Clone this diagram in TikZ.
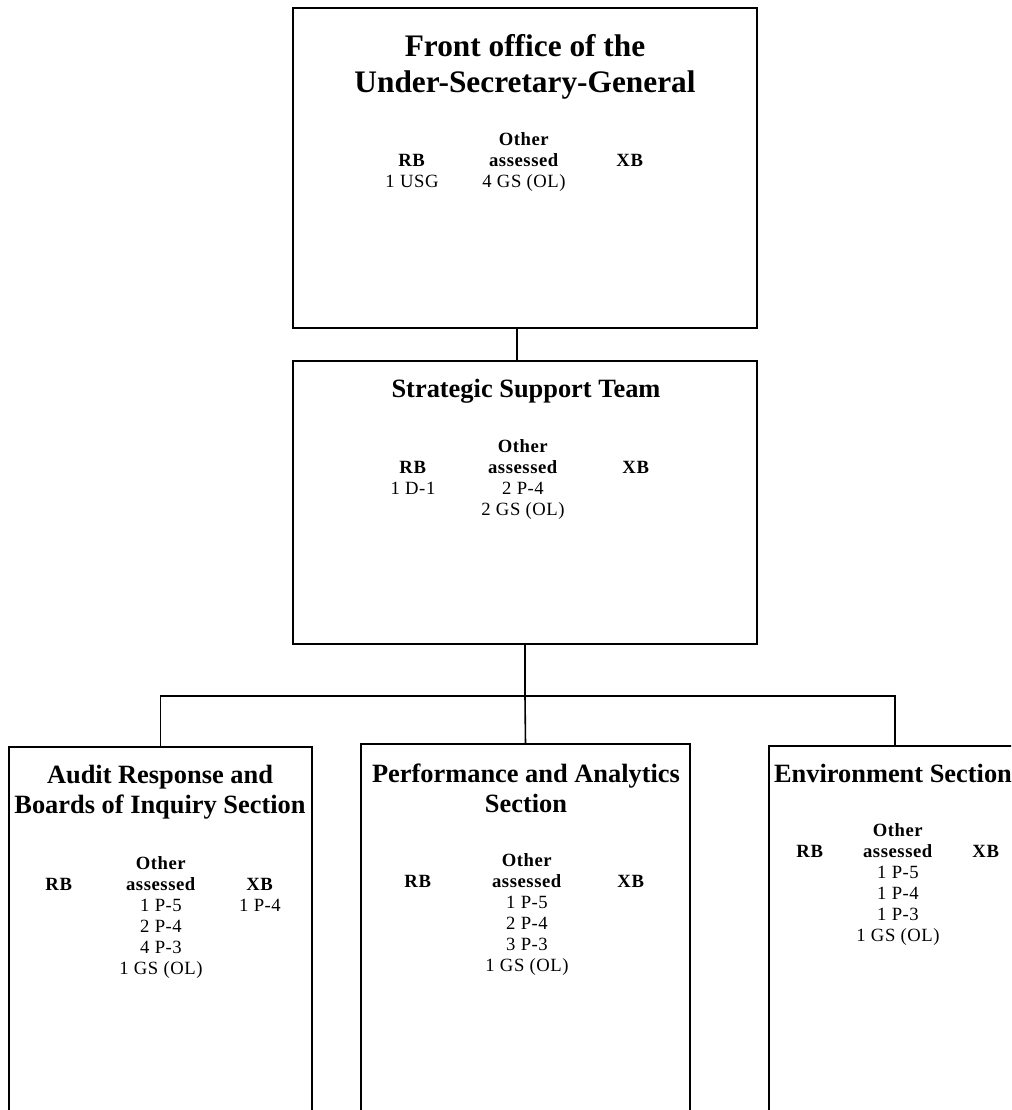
\documentclass[tikz,border=0pt]{standalone}
\usepackage{fontspec}
\setmainfont{Liberation Serif}
% slightly tracked face for the staffing tables
\newfontfamily\staffface[LetterSpace=3]{Liberation Serif}
% stacked, centred lines with the baseline of the first line as reference
\newcommand\cellstack[1]{\begin{tabular}[t]{@{}c@{}}#1\end{tabular}}
\tikzset{
  unitbox/.style={draw, line width=1.5pt, inner sep=0pt, outer sep=0pt, anchor=north west},
  conn/.style={line width=1.2pt},
  bigtitle/.style={anchor=base, inner sep=0pt, font=\fontsize{23.5}{27}\selectfont\bfseries},
  sectitle/.style={anchor=base, inner sep=0pt, font=\fontsize{19.8}{23}\selectfont\bfseries},
  staff/.style={anchor=base, inner sep=0pt, font=\staffface\fontsize{14}{15.75}\selectfont},
}
\begin{document}
\begin{tikzpicture}[x=0.75pt, y=-0.75pt]
\useasboundingbox (0,0) rectangle (1011,1110);
\clip (0,0) rectangle (1011,1110);

% Front office of the Under-Secretary-General
\node[unitbox, minimum width=348pt, minimum height=240pt] (usg) at (293,8) {};
\node[bigtitle] (usgtitle) at (525,56) {\cellstack{Front office of the\\Under-Secretary-General}};
\node[staff] (usgrb) at (412,166) {\cellstack{\textbf{RB}\\1 USG}};
\node[staff] (usgoa) at (524,145) {\cellstack{\textbf{Other}\\\textbf{assessed}\\4 GS (OL)}};
\node[staff] (usgxb) at (630,166) {\cellstack{\textbf{XB}}};

% Strategic Support Team
\node[unitbox, minimum width=348pt, minimum height=212.25pt] (sst) at (293,361) {};
\node[sectitle] (ssttitle) at (526,397) {\cellstack{Strategic Support Team}};
\node[staff] (sstrb) at (413,473) {\cellstack{\textbf{RB}\\1 D-1}};
\node[staff] (sstoa) at (523,452) {\cellstack{\textbf{Other}\\\textbf{assessed}\\2 P-4\\2 GS (OL)}};
\node[staff] (sstxb) at (636,473) {\cellstack{\textbf{XB}}};

% Audit Response and Boards of Inquiry Section
\node[unitbox, minimum width=227.25pt, minimum height=300pt] (audit) at (9,747) {};
\node[sectitle] (audittitle) at (160,783) {\cellstack{Audit Response and\\Boards of Inquiry Section}};
\node[staff] (auditrb) at (59,890) {\cellstack{\textbf{RB}}};
\node[staff] (auditoa) at (161,869) {\cellstack{\textbf{Other}\\\textbf{assessed}\\1 P-5\\2 P-4\\4 P-3\\1 GS (OL)}};
\node[staff] (auditxb) at (260,890) {\cellstack{\textbf{XB}\\1 P-4}};

% Performance and Analytics Section
\node[unitbox, minimum width=246.75pt, minimum height=300pt] (perf) at (361,744) {};
\node[sectitle] (perftitle) at (526,782) {\cellstack{Performance and Analytics\\Section}};
\node[staff] (perfrb) at (418,887) {\cellstack{\textbf{RB}}};
\node[staff] (perfoa) at (527,866) {\cellstack{\textbf{Other}\\\textbf{assessed}\\1 P-5\\2 P-4\\3 P-3\\1 GS (OL)}};
\node[staff] (perfxb) at (631,887) {\cellstack{\textbf{XB}}};

% Environment Section
\node[unitbox, minimum width=189pt, minimum height=300pt] (env) at (769,746) {};
\node[sectitle] (envtitle) at (893,782) {\cellstack{Environment Section}};
\node[staff] (envrb) at (810,857) {\cellstack{\textbf{RB}}};
\node[staff] (envoa) at (898,836) {\cellstack{\textbf{Other}\\\textbf{assessed}\\1 P-5\\1 P-4\\1 P-3\\1 GS (OL)}};
\node[staff] (envxb) at (986,857) {\cellstack{\textbf{XB}}};

% reporting lines
\draw[conn] ([xshift=-6pt]usg.south) -- ([xshift=-6pt]sst.north);
\coordinate (bus) at (525,696);
\draw[conn] (sst.south) -- (bus);
\draw[conn] (audit.north) |- (bus) -| (env.north);
\draw[conn] (bus) -- (perf.north);
\end{tikzpicture}
\end{document}
